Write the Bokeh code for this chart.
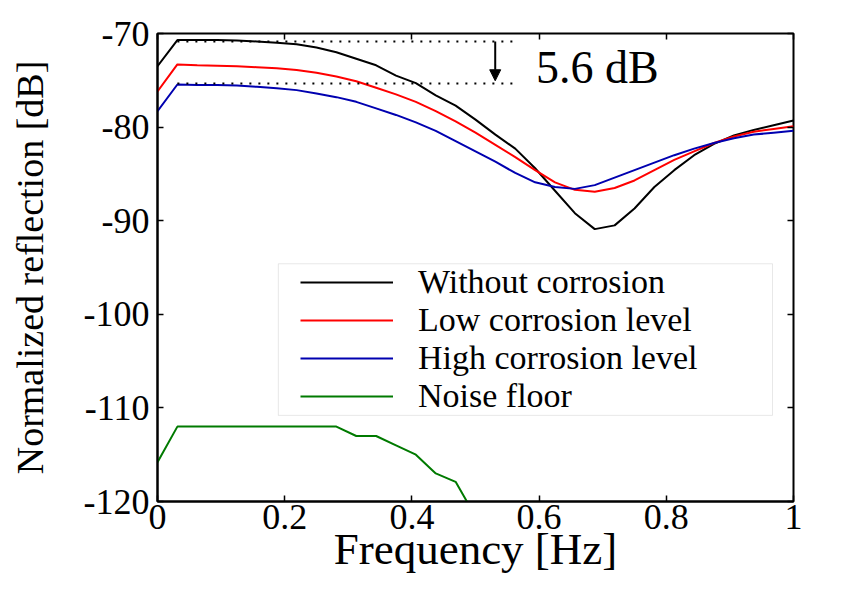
from bokeh.plotting import figure
from bokeh.models import (Range1d, FixedTicker, LinearAxis, Legend, LegendItem,
                          Arrow, NormalHead, Label, BoxAnnotation)
from bokeh.embed import file_html
from bokeh.resources import INLINE

# ---- data -------------------------------------------------------------
freq = [0.0, 0.03125, 0.0625, 0.09375, 0.125, 0.15625, 0.1875, 0.21875,
        0.25, 0.28125, 0.3125, 0.34375, 0.375, 0.40625, 0.4375, 0.46875,
        0.5, 0.53125, 0.5625, 0.59375, 0.625, 0.65625, 0.6875, 0.71875,
        0.75, 0.78125, 0.8125, 0.84375, 0.875, 0.90625, 0.9375, 0.96875, 1.0]

without_corrosion = [-73.5, -70.7, -70.7, -70.7, -70.75, -70.85, -71.0, -71.15,
                     -71.5, -72.0, -72.7, -73.4, -74.5, -75.3, -76.6, -77.7,
                     -79.2, -80.8, -82.3, -84.4, -86.8, -89.2, -90.9, -90.5,
                     -88.7, -86.4, -84.6, -83.0, -81.8, -80.9, -80.3, -79.8, -79.3]

low_corrosion = [-76.2, -73.3, -73.4, -73.45, -73.5, -73.6, -73.7, -73.9,
                 -74.2, -74.6, -75.1, -75.8, -76.5, -77.3, -78.3, -79.4,
                 -80.6, -81.9, -83.2, -84.6, -85.9, -86.7, -86.9, -86.5,
                 -85.7, -84.6, -83.5, -82.6, -81.7, -81.0, -80.5, -80.2, -79.9]

high_corrosion = [-78.3, -75.45, -75.5, -75.5, -75.55, -75.7, -75.85, -76.05,
                  -76.4, -76.8, -77.3, -78.0, -78.7, -79.5, -80.4, -81.5,
                  -82.6, -83.7, -84.9, -85.9, -86.4, -86.6, -86.2, -85.4,
                  -84.6, -83.8, -83.0, -82.3, -81.7, -81.2, -80.8, -80.6, -80.4]

noise_freq = freq[:17]
noise_floor = [-115.8, -112.0, -112.0, -112.0, -112.0, -112.0, -112.0, -112.0,
               -112.0, -112.0, -113.0, -113.0, -114.0, -115.0, -117.0, -117.9,
               -121.6]

series_names = ["Without corrosion", "Low corrosion level",
                "High corrosion level", "Noise floor"]
series_colors = ["black", "#ff0000", "#0000b0", "#007a00"]
x_ticks = [0, 0.2, 0.4, 0.6, 0.8, 1.0]
x_tick_labels = ["0", "0.2", "0.4", "0.6", "0.8", "1"]
y_ticks = [-120, -110, -100, -90, -80, -70]
y_tick_labels = ["-120", "-110", "-100", "-90", "-80", "-70"]
annotation_text = "5.6 dB"

# ---- figure -----------------------------------------------------------
FONT = "Liberation Serif"
p = figure(width=848, height=579, output_backend="svg", toolbar_location=None,
           x_range=Range1d(0, 1), y_range=Range1d(-120, -70))
p.min_border_left = 157
p.min_border_right = 55
p.min_border_top = 33
p.min_border_bottom = 78
p.xgrid.visible = False
p.ygrid.visible = False
p.outline_line_color = "black"
p.outline_line_width = 2
p.background_fill_color = "white"
p.border_fill_color = "white"

for ax, ticks, labels in ((p.xaxis[0], x_ticks, x_tick_labels),
                          (p.yaxis[0], y_ticks, y_tick_labels)):
    ax.ticker = FixedTicker(ticks=ticks)
    ax.major_label_overrides = {t: l for t, l in zip(ticks, labels)}
    ax.major_label_text_font = FONT
    ax.major_label_text_font_size = "36px"
    ax.major_label_text_color = "black"
    ax.major_tick_in = 6
    ax.major_tick_out = 0
    ax.minor_tick_line_color = None
    ax.major_tick_line_width = 1.5
    ax.axis_line_width = 2
    ax.axis_label_text_font = FONT
    ax.axis_label_text_font_style = "normal"
    ax.axis_label_text_color = "black"

p.xaxis.axis_label = "Frequency [Hz]"
p.xaxis.axis_label_text_font_size = "45px"
p.xaxis.axis_label_standoff = -8
p.xaxis.major_label_standoff = 3
p.yaxis.axis_label = "Normalized reflection [dB]"
p.yaxis.axis_label_text_font_size = "38px"
p.yaxis.axis_label_standoff = 30
p.yaxis.major_label_standoff = 8

top_ax = LinearAxis(ticker=FixedTicker(ticks=x_ticks),
                    major_label_overrides={t: "" for t in x_ticks},
                    major_tick_in=6, major_tick_out=0, minor_tick_line_color=None,
                    axis_line_color=None, major_tick_line_width=1.5)
right_ax = LinearAxis(ticker=FixedTicker(ticks=y_ticks),
                      major_label_overrides={t: "" for t in y_ticks},
                      major_tick_in=6, major_tick_out=0, minor_tick_line_color=None,
                      axis_line_color=None, major_tick_line_width=1.5)
p.add_layout(top_ax, "above")
p.add_layout(right_ax, "right")

# ---- lines ------------------------------------------------------------
renderers = []
for xs, ys, c in ((freq, without_corrosion, series_colors[0]),
                  (freq, low_corrosion, series_colors[1]),
                  (freq, high_corrosion, series_colors[2]),
                  (noise_freq, noise_floor, series_colors[3])):
    renderers.append(p.line(xs, ys, line_color=c, line_width=2))

# ---- 5.6 dB annotation ------------------------------------------------
top_level = max(without_corrosion) - 0.15
bottom_level = max(high_corrosion) + 0.1
dot_x = [freq[1], 0.566]
p.line(dot_x, [top_level, top_level], line_color="black", line_width=2, line_dash="2 7")
p.line(dot_x, [bottom_level, bottom_level], line_color="black", line_width=2, line_dash="2 7")
p.add_layout(Arrow(end=NormalHead(size=11, fill_color="black", line_color="black"),
                   x_start=0.531, y_start=top_level, x_end=0.531, y_end=bottom_level + 0.3,
                   line_color="black", line_width=2))
p.add_layout(Label(x=0.595, y=-73.6, text=annotation_text, text_font=FONT,
                   text_font_size="46px", text_color="black",
                   text_baseline="middle"))

# ---- legend -----------------------------------------------------------
p.add_layout(BoxAnnotation(left=0.19, right=0.967, top=-94.6, bottom=-110.8,
                           fill_color="white", fill_alpha=1.0,
                           line_color="#b4b4b4", line_width=1))
row_centers = [219, 181, 143, 105]   # screen px above the frame bottom
for name, r, cy in zip(series_names, renderers, row_centers):
    lg = Legend(items=[LegendItem(label=name, renderers=[r])],
                location=(143, cy - 19), margin=0, padding=0, spacing=0,
                glyph_width=93, glyph_height=38, label_height=38,
                label_standoff=25, label_text_font=FONT, label_text_font_size="34px",
                label_text_color="black", border_line_color=None,
                background_fill_alpha=0.0)
    p.add_layout(lg)

open("out.html", "w").write(file_html(p, INLINE))
